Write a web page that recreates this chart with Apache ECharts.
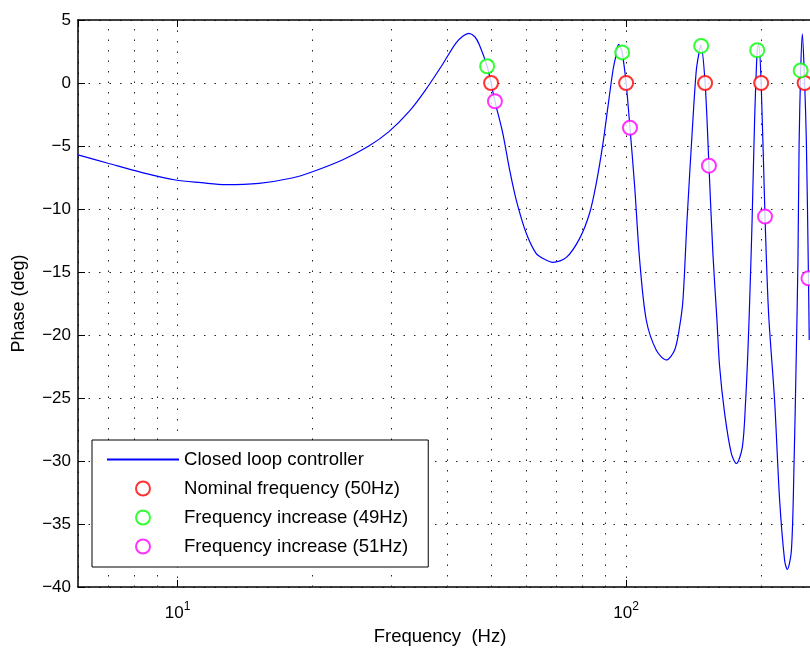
<!DOCTYPE html>
<html><head><meta charset="utf-8">
<script src="https://cdn.jsdelivr.net/npm/echarts@6/dist/echarts.min.js"></script>
<style>html,body{margin:0;padding:0;background:#fff}#c{width:810px;height:648px}</style>
</head><body><div id="c"></div>
<script>
// Closed loop controller phase response
const curveFreq = [6.0, 7.0, 8.3, 9.9, 11.3, 12.8, 15.2, 18.0, 20.0, 23.3, 26.7, 29.6, 32.8, 35.7, 38.9, 41.7, 43.3, 44.6, 46.0, 47.1, 49.0, 50.0, 51.0, 53.1, 55.0, 56.9, 59.9, 63.0, 65.5, 68.7, 73.6, 78.8, 82.9, 85.8, 88.8, 91.1, 93.5, 95.0, 96.2, 97.0, 98.0, 100, 102, 104.5, 107.2, 110.9, 116.7, 122.9, 128.3, 131.6, 133.9, 136.7, 140.9, 143.4, 145.3, 146.7, 150, 153, 156.1, 159.4, 161.6, 165.8, 171.6, 176.1, 181.6, 184.7, 186.9, 188.6, 190.9, 193.4, 196.0, 197.5, 200, 204, 207.8, 214.3, 219.9, 225.6, 228.7, 233.6, 236.7, 239.4, 241.6, 243.0, 245.0, 247.1, 250, 252.2, 255, 256];
const curvePhase = [-5.71, -6.37, -7.09, -7.70, -7.91, -8.07, -7.96, -7.54, -7.04, -6.11, -5.00, -3.86, -2.28, -0.56, 1.43, 3.15, 3.73, 3.94, 3.67, 3.02, 1.33, 0.00, -1.45, -3.99, -6.90, -9.29, -11.93, -13.52, -13.95, -14.23, -13.84, -12.33, -10.34, -7.96, -4.79, -1.88, 1.03, 2.22, 3.07, 2.88, 2.43, 0.00, -3.55, -8.23, -14.05, -18.81, -21.19, -21.98, -21.19, -19.34, -17.2, -10.9, -2.94, 1.03, 2.35, 3.0, 0.00, -6.56, -13.5, -18.8, -22.5, -26.2, -29.4, -30.2, -28.9, -25.2, -21.2, -17.2, -11.0, -2.94, 2.60, 3.10, 0.00, -10.6, -18.3, -25.2, -33.1, -37.9, -38.6, -37.1, -30.5, -22.0, -14.0, -5.0, 1.0, 3.9, 0.00, -4.5, -15.5, -20.4];

const nominalFreq = [50, 100, 150, 200, 250];
const nominalPhase = [0, 0, 0, 0, 0];
const lowFreq = [49, 98, 147, 196, 245];
const lowPhase = [1.33, 2.43, 2.94, 2.60, 1.0];
const highFreq = [51, 102, 153, 204, 255];
const highPhase = [-1.45, -3.55, -6.56, -10.6, -15.5];

const seriesNames = ['Closed loop controller', 'Nominal frequency (50Hz)', 'Frequency increase (49Hz)', 'Frequency increase (51Hz)'];
const minorGridX = [7, 8, 9, 20, 30, 40, 50, 60, 70, 80, 90, 200];
const xMin = 6, xMax = 257;
const yMin = -40, yMax = 5, yStep = 5;

const zip = (a, b) => a.map((v, i) => [v, b[i]]);
const FONT = '"Liberation Sans", Arial, Helvetica, sans-serif';
const dotted = { color: '#222', width: 1, type: [1.5, 9] };
const BLUE = '#0000ff';
// transparent 1x1 image: the line has no markers, so its legend entry shows only the line
const NO_MARKER = 'image://data:image/gif;base64,R0lGODlhAQABAIAAAAAAAP///yH5BAEAAAAALAAAAAABAAEAAAIBRAA7';

const chart = echarts.init(document.getElementById('c'), null, { renderer: 'canvas' });
chart.setOption({
  animation: false,
  backgroundColor: '#fff',
  textStyle: { fontFamily: FONT, color: '#000' },
  grid: { left: 78, top: 20, right: 0, bottom: 61, containLabel: false, outerBoundsMode: 'none' },
  legend: {
    orient: 'vertical', left: 92, top: 440,
    padding: [10, 20, 11, 14],
    itemWidth: 72, itemHeight: 14, itemGap: 10,
    borderColor: '#000', borderWidth: 1, backgroundColor: '#fff',
    textStyle: { fontSize: 18.6, fontFamily: FONT, color: '#000' },
    data: seriesNames
  },
  xAxis: [{
    type: 'log', logBase: 10, min: xMin, max: xMax, position: 'bottom',
    name: 'Frequency  (Hz)', nameLocation: 'middle', nameGap: 40,
    nameTextStyle: { fontSize: 18.5, fontFamily: FONT, color: '#000', padding: [0, 8, 0, 0] },
    axisLine: { onZero: false, lineStyle: { color: '#000', width: 1.5 } },
    axisTick: { inside: true, length: 7, lineStyle: { color: '#000' } },
    splitLine: { show: true, lineStyle: dotted },
    axisLabel: {
      margin: 18, showMinLabel: false, showMaxLabel: false,
      formatter: function (v) {
        const l = Math.log10(v), e = Math.round(l);
        if (Math.abs(l - e) > 1e-6) return '';
        return '{b|10}{s|' + e + '}';
      },
      rich: {
        b: { fontSize: 17, fontFamily: FONT, color: '#000', lineHeight: 17, verticalAlign: 'bottom' },
        s: { fontSize: 12, fontFamily: FONT, color: '#000', lineHeight: 12, verticalAlign: 'bottom', padding: [0, 0, 9, 0] }
      }
    }
  }, {
    type: 'log', logBase: 10, min: xMin, max: xMax, position: 'top',
    axisLine: { onZero: false, lineStyle: { color: '#000', width: 1.5 } },
    axisTick: { inside: true, length: 7, lineStyle: { color: '#000' } },
    splitLine: { show: false },
    axisLabel: { show: false }
  }],
  yAxis: {
    type: 'value', min: yMin, max: yMax, interval: yStep,
    name: 'Phase (deg)', nameLocation: 'middle', nameGap: 50,
    nameTextStyle: { fontSize: 18, fontFamily: FONT, color: '#000' },
    axisLine: { show: true, onZero: false, lineStyle: { color: '#000', width: 1.5 } },
    axisTick: { show: true, inside: true, length: 7, lineStyle: { color: '#000' } },
    splitLine: { show: true, lineStyle: dotted },
    axisLabel: {
      margin: 7, fontSize: 17, fontFamily: FONT, color: '#000',
      formatter: v => (v < 0 ? '\u2212' + Math.abs(v) : String(v))
    }
  },
  series: [{
    name: seriesNames[0], type: 'line', xAxisIndex: 0,
    data: zip(curveFreq, curvePhase),
    symbol: NO_MARKER, showSymbol: false, smooth: 0.3,
    lineStyle: { color: BLUE, width: 1.2 }, itemStyle: { color: BLUE },
    z: 3,
    markLine: {
      silent: true, symbol: 'none', label: { show: false }, z: 1,
      lineStyle: dotted, animation: false,
      data: minorGridX.map(v => ({ xAxis: v }))
    }
  }, {
    name: seriesNames[1], type: 'scatter', xAxisIndex: 0,
    data: zip(nominalFreq, nominalPhase),
    symbol: 'emptyCircle', symbolSize: 14,
    itemStyle: { color: '#ff0000', borderColor: '#ff0000', borderWidth: 1.2 }, z: 4
  }, {
    name: seriesNames[2], type: 'scatter', xAxisIndex: 0,
    data: zip(lowFreq, lowPhase),
    symbol: 'emptyCircle', symbolSize: 14,
    itemStyle: { color: '#00ff00', borderColor: '#00ff00', borderWidth: 1.2 }, z: 4
  }, {
    name: seriesNames[3], type: 'scatter', xAxisIndex: 0,
    data: zip(highFreq, highPhase),
    symbol: 'emptyCircle', symbolSize: 14,
    itemStyle: { color: '#ff00ff', borderColor: '#ff00ff', borderWidth: 1.2 }, z: 4
  }]
});
</script>
</body></html>
